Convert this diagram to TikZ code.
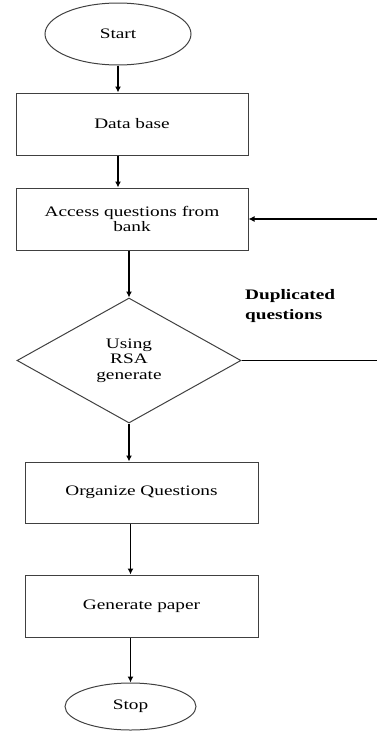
\documentclass[tikz,border=0pt]{standalone}
\usepackage{fontspec}
\setmainfont{Liberation Serif}[FakeStretch=1.33]
\usepackage{tikz}
\usetikzlibrary{shapes.geometric,arrows.meta}

\begin{document}
\begin{tikzpicture}[
                    x=1pt,y=-1pt,
                    font=\fontsize{14.5}{15.5}\selectfont,
                    box/.style={draw=black!75,line width=1pt,rectangle,align=center},
                    term/.style={draw=black!75,line width=1pt,ellipse,inner sep=0pt},
                    flow/.style={line width=1.2pt,-{Latex[length=6pt,width=6pt]}}
                ]
                \useasboundingbox (0,0) rectangle (377,731);
                \node[term,minimum width=146,minimum height=62] (start) at (118,34) {Start};
                \node[box,minimum width=232,minimum height=62] (db) at (132,124) {Data base};
                \node[box,minimum width=232,minimum height=62] (access) at (132,219) {Access questions from\\bank};
                \node[draw=black!75,line width=1pt,diamond,inner sep=0pt,align=center,minimum width=224,minimum height=125] (rsa) at (129,360.5) {Using\\RSA\\generate};
                \node[box,minimum width=233,minimum height=61] (org) at (141.5,492.5) {Organize Questions};
                \node[box,minimum width=233,minimum height=62] (gen) at (141.5,606) {Generate paper};
                \node[term,minimum width=131,minimum height=47] (stop) at (130.5,706.5) {Stop};
                \node[anchor=base west,align=left,inner sep=0pt,font=\fontsize{14.5}{20}\selectfont\bfseries] (dup) at (245,319) {Duplicated\\questions};
                \coordinate (back) at (377,219);
                \coordinate (side) at (377,360.5);
                \draw[flow] (start.south) -- (start.south |- db.north);
                \draw[flow] (db.south -| start.south) -- (start.south |- access.north);
                \draw[flow] (rsa.north |- access.south) -- (rsa.north);
                \draw[flow] (rsa.south) -- (rsa.south |- org.north);
                \draw[flow] (stop.north |- org.south) -- (stop.north |- gen.north);
                \draw[flow] (stop.north |- gen.south) -- (stop.north);
                \draw[line width=1pt] (rsa.east) -- (side);
                \draw[flow] (back) -- (access.east);
            \end{tikzpicture}
\end{document}
